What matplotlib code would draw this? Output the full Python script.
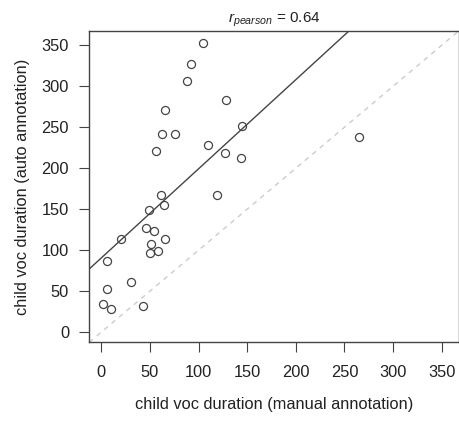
import numpy as np
import matplotlib
matplotlib.use("Agg")
import matplotlib.pyplot as plt

plt.rcParams['font.family'] = ['Liberation Sans', 'DejaVu Sans']
plt.rcParams['mathtext.fontset'] = 'custom'
plt.rcParams['mathtext.rm'] = 'Liberation Sans'
plt.rcParams['mathtext.it'] = 'Liberation Sans:italic'

# durations
manual = [104.8, 92.5, 88.4, 128.1, 65.2, 145.1, 62.5, 75.8, 109.2, 56.4,
          127.4, 143.4, 61.1, 119.2, 64.5, 48.8, 46.1, 53.9, 20.5, 65.9,
          51.2, 49.5, 58.0, 5.4, 30.7, 6.1, 1.6, 10.2, 43.3, 265.0]
auto = [353.3, 327.7, 306.2, 282.7, 270.9, 251.1, 242.1, 241.4, 228.3, 221.0,
        219.0, 212.9, 166.7, 167.2, 154.5, 148.9, 127.0, 123.7, 114.0, 114.0,
        107.5, 97.0, 99.4, 86.4, 60.5, 52.3, 34.5, 28.0, 32.1, 238.4]
ticks = [0, 50, 100, 150, 200, 250, 300, 350]
r_text = r'$r_{pearson}$ = 0.64'

x = np.array(manual)
y = np.array(auto)

fig = plt.figure(figsize=(4.6, 4.25), dpi=100)
ax = fig.add_axes([0.194, 0.1946, 0.803, 0.7324])

# same range for both axes, R style 4% padding
lo = min(x.min(), y.min())
hi = max(x.max(), y.max())
pad = 0.04 * (hi - lo)
ax.set_xlim(lo - pad, hi + pad)
ax.set_ylim(lo - pad, hi + pad)

ax.axline((0, 0), slope=1, color='#cccccc', lw=1.0, linestyle=(0, (3.5, 3.5)), zorder=1)
slope, intercept = np.polyfit(x, y, 1)
ax.axline((0, intercept), slope=slope, color='#444444', lw=1.0, zorder=2)
ax.plot(x, y, 'o', ms=5.8, mfc='none', mec='#444444', mew=0.9, zorder=3)

ax.set_xticks(ticks)
ax.set_yticks(ticks)
ax.tick_params(length=7.5, width=0.8, color='#444444', labelsize=11.8,
               labelcolor='#222222')
ax.tick_params(axis='x', pad=9)
ax.tick_params(axis='y', pad=7)
for s in ax.spines.values():
    s.set_color('#444444')
    s.set_linewidth(1.0)

ax.set_xlabel('child voc duration (manual annotation)', fontsize=11.8,
              color='#222222', labelpad=12)
ax.set_ylabel('child voc duration (auto annotation)', fontsize=11.8,
              color='#222222', labelpad=8)
ax.set_title(r_text, fontsize=11, color='#222222', pad=6)

fig.savefig('out.png', dpi=100)
